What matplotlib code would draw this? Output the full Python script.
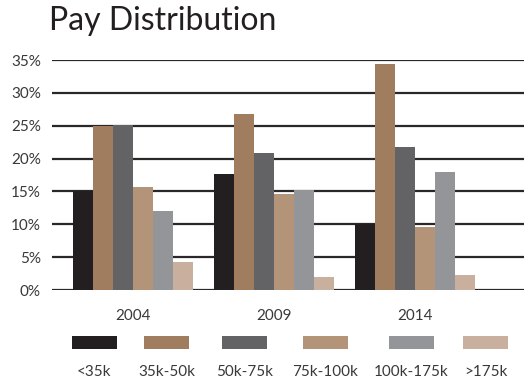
import numpy as np
import matplotlib
matplotlib.use("Agg")
import matplotlib.pyplot as plt
from matplotlib.patches import Rectangle

plt.rcParams['font.family'] = ['Lato', 'DejaVu Sans']

# share of employees (%) in each pay band, per survey year
years = ['2004', '2009', '2014']
bands = ['<35k', '35k-50k', '50k-75k', '75k-100k', '100k-175k', '>175k']
under_35k = [15.0, 17.7, 10.0]
k35_50 = [24.9, 26.8, 34.4]
k50_75 = [25.1, 20.9, 21.8]
k75_100 = [15.7, 14.6, 9.6]
k100_175 = [12.0, 15.2, 18.0]
over_175k = [4.3, 2.0, 2.3]

series = [under_35k, k35_50, k50_75, k75_100, k100_175, over_175k]
colors = ['#231f20', '#a07d5f', '#636365', '#b39479', '#939598', '#c9b09e']
yticks = [0, 5, 10, 15, 20, 25, 30, 35]

W, H = 524, 381
fig = plt.figure(figsize=(W / 100, H / 100), dpi=100)
ax = fig.add_axes([52 / W, (H - 290) / H, 1 - 52 / W, 230 / H])

x = np.arange(len(years))
bar_w = 0.142
for i, (vals, c) in enumerate(zip(series, colors)):
    offs = (i - 2.5) * bar_w
    ax.bar(x + offs, vals, width=bar_w, color=c, zorder=3, linewidth=0)

ax.set_ylim(0, 35)
ax.set_xlim(-0.574, 2.77)
ax.set_yticks(yticks)
ax.set_yticklabels([f'{t}%' for t in yticks])
ax.set_xticks(x)
ax.set_xticklabels(years)
ax.tick_params(axis='both', length=0, labelsize=11, colors='#3a3839')
ax.tick_params(axis='y', pad=8)
ax.tick_params(axis='x', pad=14)
for t in yticks:
    ax.axhline(t, color='#2a2728', lw=1.6, zorder=2)
for s in ax.spines.values():
    s.set_visible(False)

# title
fig.text(49 / W, 1 - 21 / H, 'Pay Distribution', fontsize=23, color='#231f20',
         va='center', ha='left')

# legend: swatch row with labels beneath
swatch_x = [72, 144, 222, 303, 389, 463]
for sx, c, lab in zip(swatch_x, colors, bands):
    fig.add_artist(Rectangle((sx / W, 1 - 349 / H), 45 / W, 13 / H,
                             transform=fig.transFigure, color=c, lw=0))
    fig.text((sx + 22.5) / W, 1 - 372 / H, lab, fontsize=11, color='#3a3839',
             ha='center', va='center')

fig.savefig('out.png', dpi=100)
